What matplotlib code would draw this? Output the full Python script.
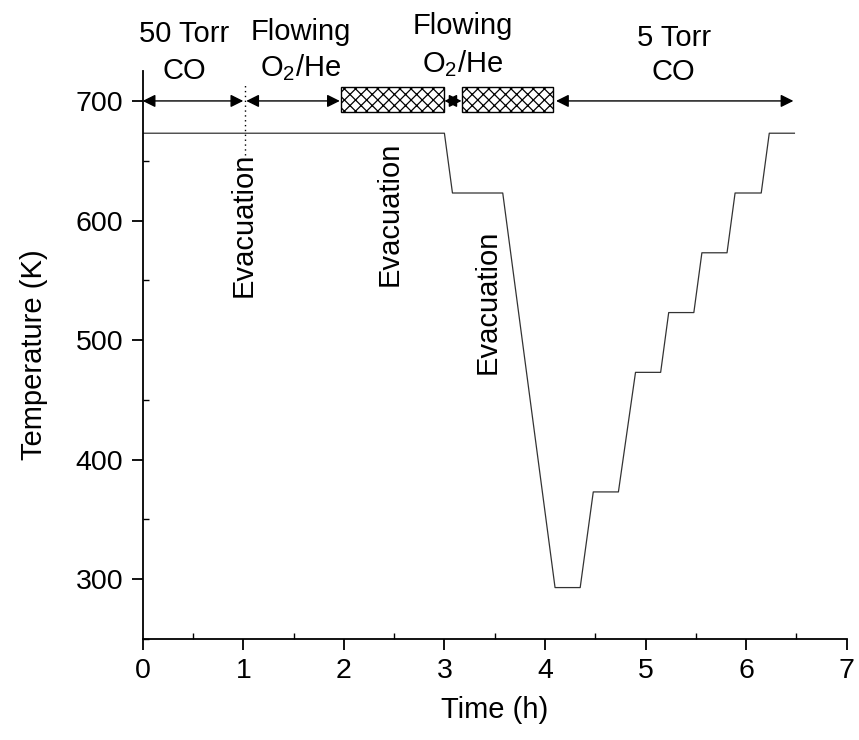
import matplotlib
matplotlib.use("Agg")
import matplotlib.pyplot as plt
from matplotlib.patches import Rectangle
from matplotlib.ticker import MultipleLocator

plt.rcParams['font.family'] = ['Liberation Sans', 'DejaVu Sans']
plt.rcParams['mathtext.fontset'] = 'custom'
plt.rcParams['mathtext.rm'] = 'Liberation Sans'
plt.rcParams['mathtext.it'] = 'Liberation Sans'

# temperature programme
tiempo = [0, 3.0, 3.08, 3.58, 4.10, 4.35, 4.48, 4.73, 4.90, 5.15, 5.23, 5.48, 5.56, 5.81, 5.89, 6.15, 6.23, 6.48]
temperatura = [673, 673, 623, 623, 293, 293, 373, 373, 473, 473, 523, 523, 573, 573, 623, 623, 673, 673]

# arrows at the top (start, end) in hours
flechas = [(0.0, 1.0), (1.03, 1.96), (3.0, 3.17), (4.11, 6.47)]
# hatched boxes (start, end) in hours
cajas = [(1.97, 3.0), (3.17, 4.08)]
# stage labels: x, first line, second line, y of each line
etapas = [
    (0.41, "50 Torr", "CO", 756, 725),
    (1.57, "Flowing", r"$\mathregular{O_2}$/He", 758, 728),
    (3.18, "Flowing", r"$\mathregular{O_2}$/He", 763, 731),
    (5.28, "5 Torr", "CO", 753, 724),
]
# rotated "Evacuation" labels (x, y center)
evacuaciones = [(1.0, 596), (2.46, 606), (3.43, 532)]

fig = plt.figure(figsize=(8.59, 7.40), dpi=100)
ax = fig.add_axes([0.1661, 0.1365, 0.8196, 0.7675])

ax.plot(tiempo, temperatura, color='#333333', lw=0.9)

for x0, x1 in flechas:
    ax.annotate('', xy=(x1, 700), xytext=(x0, 700),
                arrowprops=dict(arrowstyle='<|-|>', color='k', lw=1.0,
                                mutation_scale=19, shrinkA=0, shrinkB=0),
                annotation_clip=False)

plt.rcParams['hatch.linewidth'] = 0.9
for x0, x1 in cajas:
    ax.add_patch(Rectangle((x0, 690.5), x1 - x0, 21.5, facecolor='white',
                           edgecolor='k', hatch='xxx', lw=1.0, zorder=3, clip_on=False))

# dotted line at the first evacuation
ax.plot([1.02, 1.02], [655, 714], color='k', lw=1.0, ls=(0, (1, 2.5)), clip_on=False)

for x, l1, l2, y1, y2 in etapas:
    ax.text(x, y1, l1, ha='center', va='center', fontsize=21, clip_on=False)
    ax.text(x, y2, l2, ha='center', va='center', fontsize=21, clip_on=False)

for x, y in evacuaciones:
    ax.text(x, y, "Evacuation", rotation=90, ha='center', va='center', fontsize=21)

ax.set_xlim(0, 7)
ax.set_ylim(250, 725)
ax.xaxis.set_major_locator(MultipleLocator(1))
ax.xaxis.set_minor_locator(MultipleLocator(0.5))
ax.yaxis.set_minor_locator(MultipleLocator(50))
ax.set_yticks([300, 400, 500, 600, 700])

for lado in ['top', 'right']:
    ax.spines[lado].set_visible(False)
for lado in ['left', 'bottom']:
    ax.spines[lado].set_linewidth(1.3)

ax.tick_params(which='major', direction='out', length=8, width=1.3, labelsize=20.5, pad=6)
ax.tick_params(which='minor', direction='in', length=4, width=1.0)

ax.set_xlabel("Time (h)", fontsize=21, labelpad=8)
ax.set_ylabel("Temperature (K)", fontsize=21, labelpad=20)

fig.savefig("out.png", dpi=100)
